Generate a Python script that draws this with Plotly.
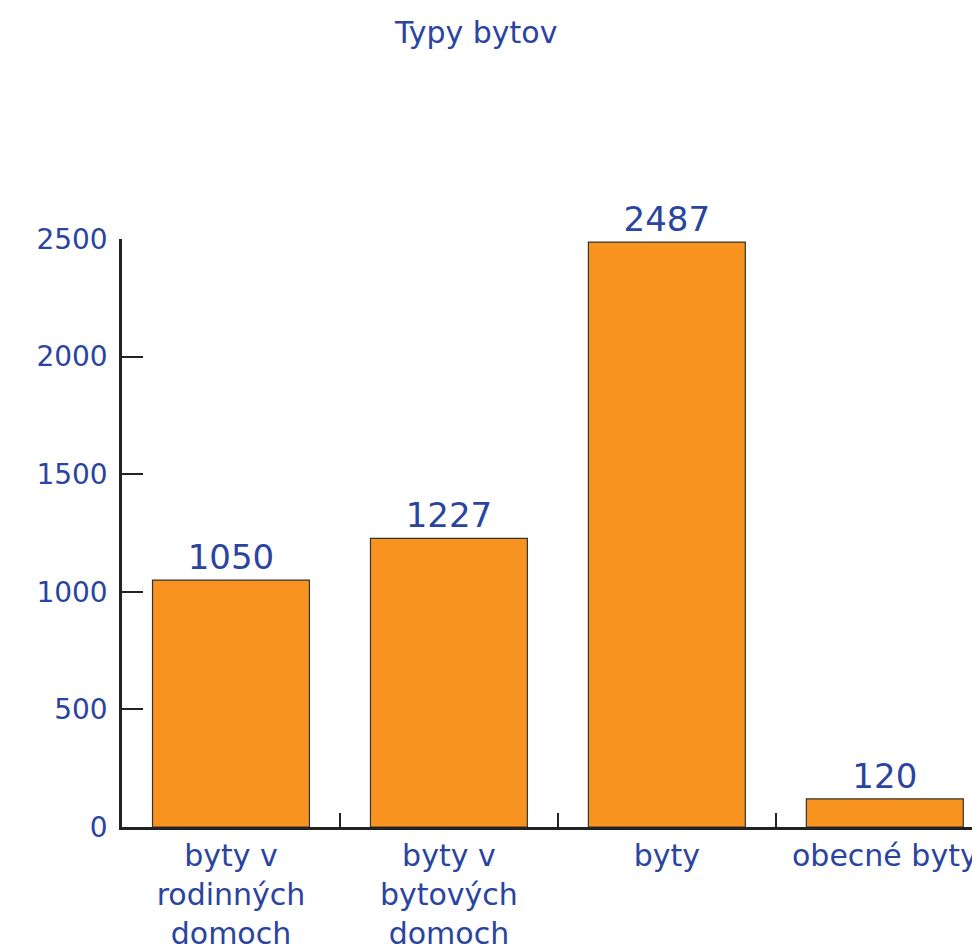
import plotly.graph_objects as go

categories = ["byty v<br>rodinných<br>domoch", "byty v<br>bytových<br>domoch", "byty", "obecné byty"]
values = [1050, 1227, 2487, 120]
y_ticks = [0, 500, 1000, 1500, 2000, 2500]

TXT = "#2a44a0"
FONT = "'DejaVu Sans', sans-serif"

fig = go.Figure(go.Bar(
    x=categories, y=values,
    width=0.72,
    marker=dict(color="#f7931e", line=dict(color="#333333", width=1.2)),
    text=[str(v) for v in values], textposition="outside",
    textfont=dict(size=34, color=TXT, family=FONT),
    cliponaxis=False,
))

fig.update_layout(
    width=972, height=947, autosize=False,
    template="none",
    paper_bgcolor="white", plot_bgcolor="white",
    margin=dict(l=122, r=0, t=239, b=120),
    title=dict(text="Typy bytov", x=0.49, xanchor="center", y=0.966, yanchor="middle",
               font=dict(size=30, color=TXT, family=FONT)),
    showlegend=False,
    bargap=0.28,
)
fig.update_xaxes(
    range=[-0.5, 3.4], showline=True, linecolor="#222222", linewidth=2.5,
    ticks="inside", tickson="boundaries", ticklen=14, tickwidth=2, tickcolor="#222222",
    showgrid=False, zeroline=False, automargin=False,
    tickfont=dict(size=30, color=TXT, family=FONT),
)
fig.update_yaxes(
    range=[0, 2500], tickvals=y_ticks, showline=True, linecolor="#222222", linewidth=2.5,
    ticks="inside", ticklen=21, tickwidth=2, tickcolor="#222222",
    showgrid=False, zeroline=False, automargin=False,
    tickfont=dict(size=28, color=TXT, family=FONT), ticklabelstandoff=6,
)

fig.write_html("out.html", config={"displayModeBar": False},
               post_script="document.body.style.margin='0';document.body.style.overflow='hidden';")
